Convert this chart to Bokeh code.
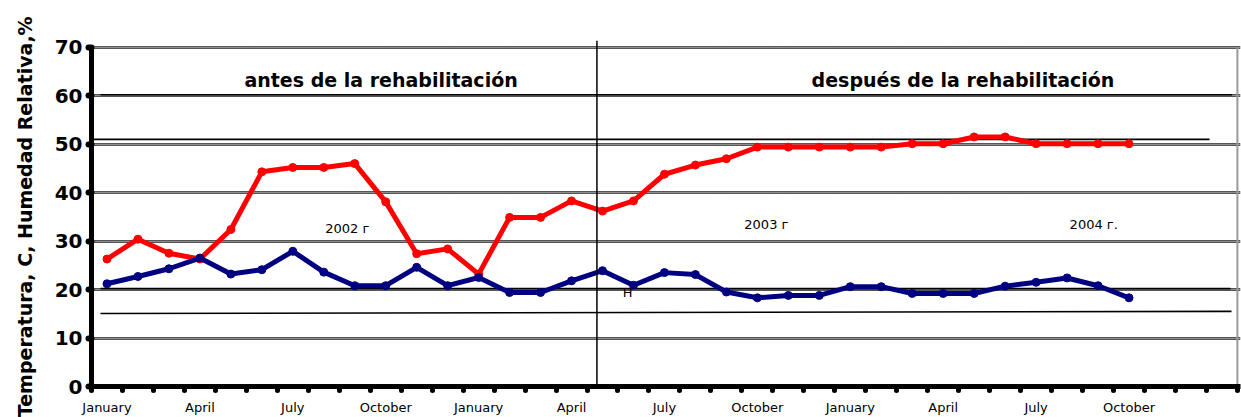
from bokeh.plotting import figure
from bokeh.models import FixedTicker, Grid, Range1d, Span, ColumnDataSource
from bokeh.core.properties import value
from bokeh.embed import file_html
from bokeh.resources import INLINE

# ---------------- data ----------------
n_slots = 37
month_names = ["January", "April", "July", "October"] * 3
month_idx = [0, 3, 6, 9, 12, 15, 18, 21, 24, 27, 30, 33]

humidity = [26.3, 30.4, 27.5, 26.3, 32.4, 44.3, 45.2, 45.2, 46.0, 38.1,
            27.4, 28.4, 23.2, 34.9, 34.9, 38.3, 36.2, 38.3, 43.8, 45.7,
            47.0, 49.4, 49.4, 49.4, 49.4, 49.4, 50.1, 50.1, 51.5, 51.5,
            50.1, 50.1, 50.1, 50.1]
temperature = [21.2, 22.7, 24.3, 26.5, 23.2, 24.1, 27.9, 23.6, 20.8, 20.8,
               24.6, 20.8, 22.5, 19.4, 19.4, 21.8, 23.9, 20.9, 23.5, 23.1,
               19.5, 18.3, 18.8, 18.8, 20.6, 20.6, 19.2, 19.2, 19.2, 20.7,
               21.5, 22.4, 20.8, 18.3]

y_ticks = [0, 10, 20, 30, 40, 50, 60, 70]

# reference lines drawn on the chart
ref_x0 = [0.29, 0.0, 0.29, 0.29]
ref_x1 = [36.83, 36.1, 36.78, 36.81]
ref_y0 = [60.2, 51.0, 20.2, 15.05]
ref_y1 = [60.2, 51.0, 20.2, 15.5]
divider_x = 16.32

title_text = ["antes de la rehabilitación", "después de la rehabilitación"]
title_x = [9.35, 28.14]
title_y = [63.2, 63.2]

note_text = ["2002 г", "2003 г", "2004 г.", "H"]
note_x = [8.26, 21.79, 32.36, 17.31]
note_y = [32.7, 33.4, 33.4, 19.5]

# ---------------- figure ----------------
x_pos = [i + 0.5 for i in range(len(humidity))]

p = figure(width=1241, height=417,
           x_range=Range1d(0, 37.1), y_range=Range1d(0, 71.4),
           output_backend="svg", toolbar_location=None,
           min_border_left=91, min_border_right=1,
           min_border_top=40, min_border_bottom=31)
p.outline_line_color = None
p.background_fill_color = "white"

# x axis: labels at category centres, dot ticks at category edges
xt = FixedTicker(ticks=[i + 0.5 for i in month_idx],
                 minor_ticks=list(range(n_slots + 1)))
p.xaxis.ticker = xt
p.xaxis.major_label_overrides = {i + 0.5: m for i, m in zip(month_idx, month_names)}
p.xaxis.major_tick_line_color = None
p.xaxis.major_tick_out = 0
p.xaxis.major_tick_in = 0
p.xaxis.minor_tick_line_color = "black"
p.xaxis.minor_tick_line_width = 5
p.xaxis.minor_tick_out = 4
p.xaxis.minor_tick_in = 0
p.xaxis.minor_tick_line_cap = "round"
p.xaxis.axis_line_width = 5
p.xaxis.axis_line_color = "black"
p.xaxis.major_label_text_font = "DejaVu Sans"
p.xaxis.major_label_text_font_size = "13px"
p.xaxis.major_label_text_color = "black"
p.xaxis.major_label_standoff = 9

# y axis
yt = FixedTicker(ticks=y_ticks)
p.yaxis.ticker = yt
p.yaxis.bounds = (0, 70)
p.yaxis.axis_line_width = 5
p.yaxis.axis_line_color = "black"
p.yaxis.major_tick_line_width = 6
p.yaxis.major_tick_line_cap = "round"
p.yaxis.major_tick_out = 3
p.yaxis.major_tick_in = 0
p.yaxis.minor_tick_line_color = None
p.yaxis.major_label_text_font = "DejaVu Sans"
p.yaxis.major_label_text_font_style = "bold"
p.yaxis.major_label_text_font_size = "20px"
p.yaxis.major_label_text_color = "black"
p.yaxis.major_label_standoff = 6
p.yaxis.axis_label = "Temperatura,  C, Humedad Relativa,%"
p.yaxis.axis_label_text_font = "DejaVu Sans"
p.yaxis.axis_label_text_font_style = "bold"
p.yaxis.axis_label_text_font_size = "19px"
p.yaxis.axis_label_text_color = "black"
p.yaxis.axis_label_standoff = 16

# grid (Excel-like textured gray band)
p.xgrid.visible = False
p.ygrid.ticker = yt
p.ygrid.grid_line_color = "#555555"
p.ygrid.grid_line_width = 3
p.add_layout(Grid(dimension=1, ticker=yt, grid_line_color="#c8c8c8",
                  grid_line_width=1, grid_line_dash="1 1"))

# right border of plot area
p.segment(x0=[n_slots], y0=[0], x1=[n_slots], y1=[70],
          line_color="#999999", line_width=2)

# divider and reference lines
p.add_layout(Span(location=divider_x, dimension="height",
                  line_color="black", line_width=1.5))
p.segment(x0=ref_x0, y0=ref_y0, x1=ref_x1, y1=ref_y1,
          line_color="black", line_width=1.6)

# series
src = ColumnDataSource(dict(x=x_pos, hum=humidity, temp=temperature))
p.line("x", "hum", source=src, line_color="#FF0000", line_width=5,
       line_join="round", line_cap="round")
p.scatter("x", "hum", source=src, size=8, color="#FF0000")
p.line("x", "temp", source=src, line_color="#000080", line_width=5,
       line_join="round", line_cap="round")
p.scatter("x", "temp", source=src, size=8, color="#000080")

# texts
p.text(x=title_x, y=title_y, text=title_text,
       text_font=value("DejaVu Sans"), text_font_style="bold",
       text_font_size=value("19px"), text_color="black",
       text_align="center", text_baseline="middle")
p.text(x=note_x, y=note_y, text=note_text,
       text_font=value("DejaVu Sans"),
       text_font_size=value("13px"), text_color="black",
       text_align="center", text_baseline="middle")

open("out.html", "w").write(file_html(p, INLINE))
